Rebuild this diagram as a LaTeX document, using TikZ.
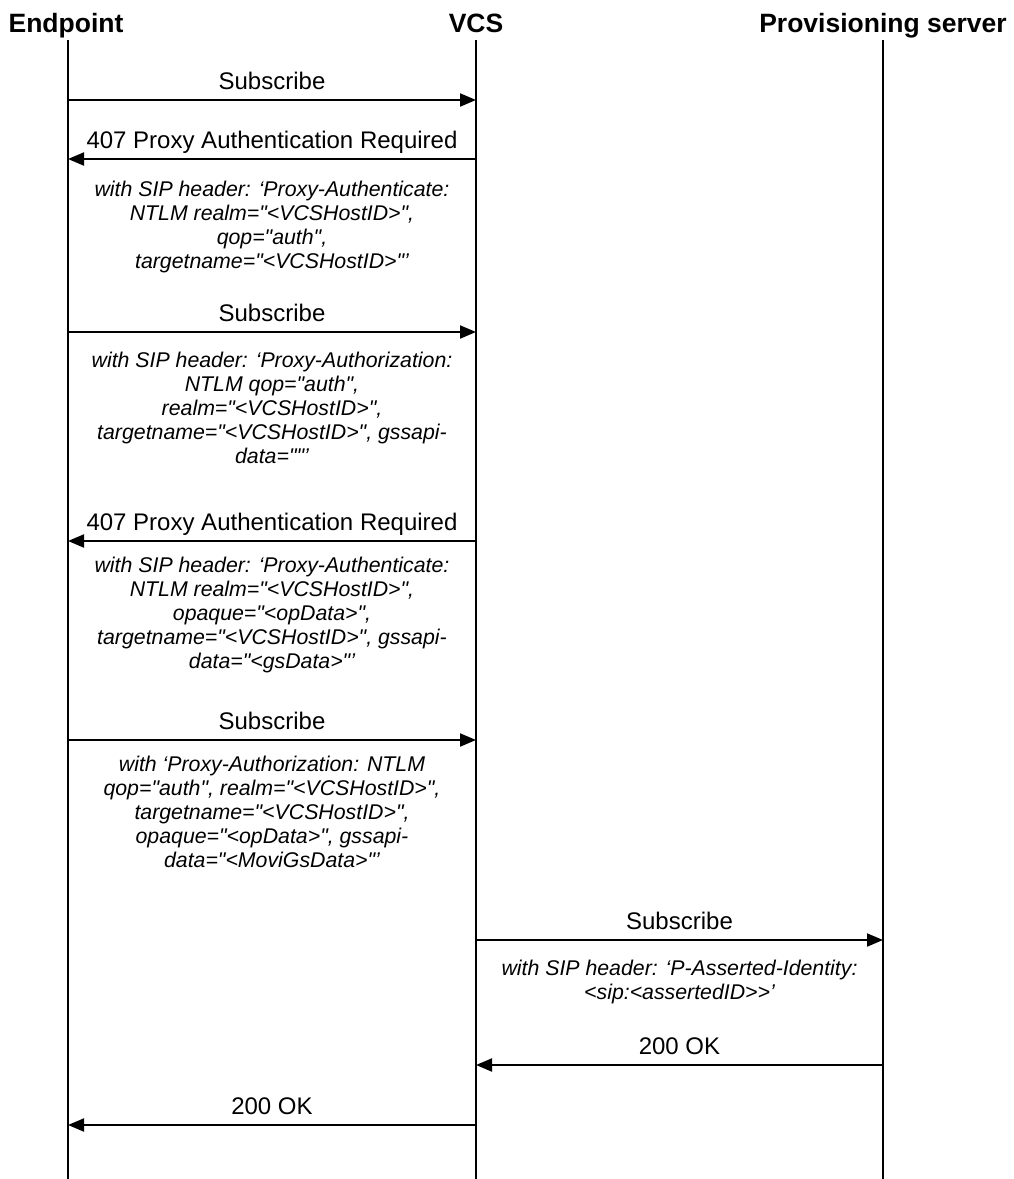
\documentclass[tikz,border=0pt]{standalone}
\usepackage{fontspec}
\setmainfont{Liberation Sans}[Ligatures=TeXOff]
\usetikzlibrary{arrows.meta}
\begin{document}
\begin{tikzpicture}[x=1pt,y=-1pt,
  actor/.style={font=\fontsize{26.5}{30}\selectfont\bfseries, inner sep=0pt, anchor=base},
  lifeline/.style={line width=2pt},
  msg/.style={line width=2pt, -{Triangle[length=16pt,width=13pt]}},
  msglabel/.style={midway, font=\fontsize{24}{28}\selectfont, inner sep=0pt, anchor=base, yshift=11pt},
  note/.style={font=\fontsize{21.3}{24}\selectfont\itshape, align=center, inner sep=0pt, anchor=north}]
\useasboundingbox (0,0) rectangle (1013,1179);

% participants
\node[actor] (ep)   at (66,32)  {Endpoint};
\node[actor] (vcs)  at (476,32) {VCS};
\node[actor] (prov) at (883,32) {Provisioning server};

% lifelines
\coordinate (epTop)   at (68,40);   \coordinate (epBot)   at (68,1179);
\coordinate (vcsTop)  at (476,40);  \coordinate (vcsBot)  at (476,1179);
\coordinate (provTop) at (883,40);  \coordinate (provBot) at (883,1179);
\draw[lifeline] (epTop) -- (epBot);
\draw[lifeline] (vcsTop) -- (vcsBot);
\draw[lifeline] (provTop) -- (provBot);

% message anchor points on the lifelines
\coordinate (e1) at (68,100);   \coordinate (v1) at (476,100);
\coordinate (e2) at (68,159);   \coordinate (v2) at (476,159);
\coordinate (e3) at (68,332);   \coordinate (v3) at (476,332);
\coordinate (e4) at (68,541);   \coordinate (v4) at (476,541);
\coordinate (e5) at (68,740);   \coordinate (v5) at (476,740);
\coordinate (v6) at (476,940);  \coordinate (p6) at (883,940);
\coordinate (v7) at (476,1065); \coordinate (p7) at (883,1065);
\coordinate (e8) at (68,1125);  \coordinate (v8) at (476,1125);

% messages
\draw[msg] (e1) -- (v1) node[msglabel] {Subscribe};
\draw[msg] (v2) -- (e2) node[msglabel] {407 Proxy Authentication Required};
\draw[msg] (e3) -- (v3) node[msglabel] {Subscribe};
\draw[msg] (v4) -- (e4) node[msglabel] {407 Proxy Authentication Required};
\draw[msg] (e5) -- (v5) node[msglabel] {Subscribe};
\draw[msg] (v6) -- (p6) node[msglabel] {Subscribe};
\draw[msg] (p7) -- (v7) node[msglabel] {200 OK};
\draw[msg] (v8) -- (e8) node[msglabel] {200 OK};

% header details
\node[note] (n1) at (272,180.5) {with SIP header: ‘Proxy-Authenticate:\\
NTLM realm="<VCSHostID>",\\
qop="auth",\\
targetname="<VCSHostID>"’};
\node[note] (n2) at (272,351.5) {with SIP header: ‘Proxy-Authorization:\\
NTLM qop="auth",\\
realm="<VCSHostID>",\\
targetname="<VCSHostID>", gssapi-\\
data=""’};
\node[note] (n3) at (272,556.5) {with SIP header: ‘Proxy-Authenticate:\\
NTLM realm="<VCSHostID>",\\
opaque="<opData>",\\
targetname="<VCSHostID>", gssapi-\\
data="<gsData>"’};
\node[note] (n4) at (272,755.5) {with ‘Proxy-Authorization: NTLM\\
qop="auth", realm="<VCSHostID>",\\
targetname="<VCSHostID>",\\
opaque="<opData>", gssapi-\\
data="<MoviGsData>"’};
\node[note] (n5) at (679.5,959.5) {with SIP header: ‘P-Asserted-Identity:\\
<sip:<assertedID>>’};
\end{tikzpicture}
\end{document}
